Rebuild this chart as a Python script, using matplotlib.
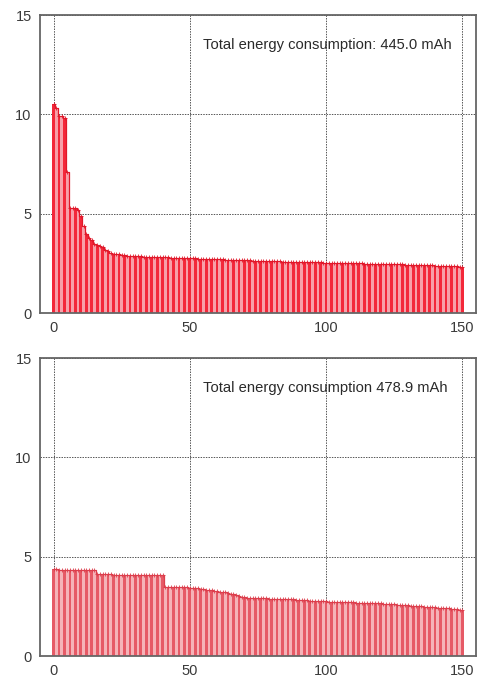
import numpy as np
import matplotlib
matplotlib.use("Agg")
import matplotlib.pyplot as plt

plt.rcParams['font.family'] = ['Liberation Sans', 'DejaVu Sans']

top_values = [
    10.5, 10.3, 9.9, 9.9, 9.8, 7.1, 5.3, 5.3, 5.3, 5.2,
    4.9, 4.4, 4.0, 3.8, 3.7, 3.5, 3.4, 3.35, 3.3, 3.15,
    3.1, 3.02, 2.98, 2.96, 2.95, 2.92, 2.9, 2.88, 2.87, 2.86,
    2.86, 2.85, 2.85, 2.84, 2.84, 2.83, 2.83, 2.82, 2.82, 2.81,
    2.81, 2.8, 2.8, 2.79, 2.79, 2.78, 2.78, 2.77, 2.77, 2.76,
    2.76, 2.75, 2.75, 2.74, 2.74, 2.73, 2.73, 2.72, 2.72, 2.71,
    2.71, 2.7, 2.7, 2.69, 2.69, 2.68, 2.68, 2.67, 2.67, 2.66,
    2.66, 2.65, 2.65, 2.64, 2.64, 2.63, 2.63, 2.62, 2.62, 2.61,
    2.61, 2.6, 2.6, 2.6, 2.59, 2.59, 2.59, 2.58, 2.58, 2.58,
    2.57, 2.57, 2.57, 2.56, 2.56, 2.56, 2.55, 2.55, 2.55, 2.54,
    2.54, 2.54, 2.53, 2.53, 2.53, 2.52, 2.52, 2.52, 2.51, 2.51,
    2.51, 2.5, 2.5, 2.5, 2.49, 2.49, 2.49, 2.48, 2.48, 2.48,
    2.47, 2.47, 2.47, 2.46, 2.46, 2.46, 2.45, 2.45, 2.45, 2.44,
    2.44, 2.44, 2.43, 2.43, 2.42, 2.42, 2.41, 2.41, 2.4, 2.4,
    2.39, 2.39, 2.38, 2.38, 2.37, 2.37, 2.36, 2.35, 2.35, 2.34,
    2.33,
]

bottom_values = [
    4.36, 4.36, 4.35, 4.35, 4.35, 4.35, 4.34, 4.34, 4.34, 4.34,
    4.34, 4.33, 4.33, 4.33, 4.33, 4.32,
    4.12, 4.12, 4.11, 4.11, 4.11, 4.11, 4.1, 4.1, 4.1, 4.1,
    4.1, 4.09, 4.09, 4.09, 4.09, 4.09, 4.08, 4.08, 4.08, 4.08,
    4.08, 4.07, 4.07, 4.07, 4.07,
    3.5, 3.5, 3.49, 3.48, 3.48, 3.47, 3.46, 3.46, 3.45, 3.44,
    3.43, 3.42, 3.4, 3.38, 3.36, 3.34, 3.32, 3.3, 3.28, 3.26,
    3.24, 3.22, 3.2, 3.17, 3.14, 3.1, 3.06, 3.02, 2.98, 2.95,
    2.93, 2.92, 2.92, 2.91, 2.91, 2.9, 2.9, 2.9, 2.89, 2.89,
    2.89, 2.88, 2.88, 2.87, 2.87, 2.86, 2.86, 2.85, 2.84, 2.83,
    2.82, 2.81, 2.8, 2.79, 2.78, 2.77, 2.76, 2.76, 2.75, 2.75,
    2.74, 2.74, 2.73, 2.73, 2.72, 2.72, 2.71, 2.71, 2.7, 2.7,
    2.69, 2.69, 2.68, 2.68, 2.67, 2.67, 2.66, 2.66, 2.65, 2.65,
    2.64, 2.63, 2.62, 2.61, 2.6, 2.59, 2.58, 2.57, 2.56, 2.55,
    2.54, 2.53, 2.52, 2.51, 2.5, 2.49, 2.48, 2.47, 2.46, 2.45,
    2.44, 2.43, 2.42, 2.41, 2.4, 2.39, 2.38, 2.36, 2.34, 2.32,
]

top_label = "Total energy consumption: 445.0 mAh"
bottom_label = "Total energy consumption 478.9 mAh"
x_ticks = [0, 50, 100, 150]
y_ticks = [0, 5, 10, 15]

fig = plt.figure(figsize=(4.8, 6.78), dpi=100)
ax1 = fig.add_axes([0.0833, 0.5383, 0.9083, 0.4395])
ax2 = fig.add_axes([0.0833, 0.0324, 0.9083, 0.4395])


def draw(ax, values, label, red, pink, line):
    x = np.arange(len(values))
    faces = [red if i % 2 == 0 else pink for i in x]
    ax.bar(x, values, width=1.0, color=faces, linewidth=0,
           align="center", zorder=2)
    ax.step(x, values, where="mid", color=line, linewidth=0.9, zorder=3)
    ax.plot(x, values, linestyle="none", marker="+", markersize=3,
            markeredgewidth=0.6, color=line, zorder=3)
    ax.set_xlim(-5, 155)
    ax.set_ylim(0, 15)
    ax.set_xticks(x_ticks)
    ax.set_yticks(y_ticks)
    ax.tick_params(length=0, labelsize=10.5, colors="#3a3a3a", pad=6)
    for s in ax.spines.values():
        s.set_color("#666666")
        s.set_linewidth(1.3)
    ax.grid(True, color="#555555", linestyle=(0, (1.5, 1.2)), linewidth=0.7, zorder=1)
    ax.set_axisbelow(True)
    ax.text(55, 13.5, label, fontsize=10.6, color="#2a2a2a", va="center", ha="left", zorder=4)


draw(ax1, top_values, top_label, "#f3283a", "#f7a0a9", "#e0182a")
draw(ax2, bottom_values, bottom_label, "#e65a66", "#f5b3b8", "#dc3e4c")

fig.savefig("out.png", dpi=100)
